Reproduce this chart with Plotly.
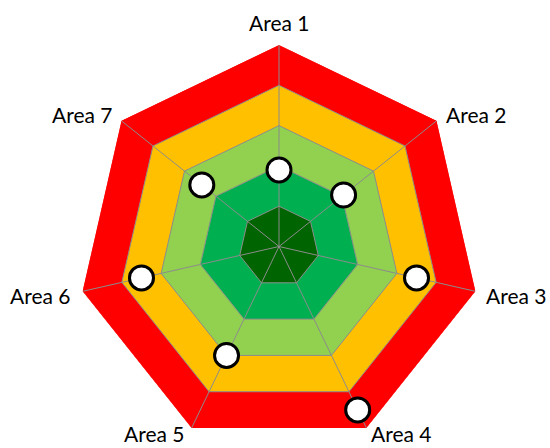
import math
import plotly.graph_objects as go

areas = ["Area 1", "Area 2", "Area 3", "Area 4", "Area 5", "Area 6", "Area 7"]
scores = [1.9, 2.05, 3.5, 4.5, 3.0, 3.5, 2.45]
band_levels = [5, 4, 3, 2, 1]
band_colors = ["#FF0000", "#FFC000", "#92D050", "#00B050", "#006400"]
r_max = 5

W, H = 550, 448
dom_x = [77.5 / W, 480.5 / W]
dom_y = [0, 403 / H]

fig = go.Figure()
closed_theta = areas + [areas[0]]
for lvl, col in zip(band_levels, band_colors):
    edge = col if lvl == r_max else "#8C8C8C"
    fig.add_trace(go.Scatterpolar(
        r=[lvl] * (len(areas) + 1), theta=closed_theta,
        mode="lines", fill="toself", fillcolor=col,
        line=dict(color=edge, width=1), hoverinfo="skip", showlegend=False))

# spokes
for a in areas:
    fig.add_trace(go.Scatterpolar(
        r=[0, r_max], theta=[a, a], mode="lines",
        line=dict(color="#8C8C8C", width=1), hoverinfo="skip", showlegend=False))

fig.add_trace(go.Scatterpolar(
    r=scores, theta=areas, mode="markers",
    marker=dict(size=24, color="white", line=dict(color="black", width=3)),
    showlegend=False))

# category labels placed next to the polygon vertices
cx = (dom_x[0] + dom_x[1]) / 2
cy = (dom_y[0] + dom_y[1]) / 2
rad_px = min((dom_x[1] - dom_x[0]) * W, (dom_y[1] - dom_y[0]) * H) / 2
n = len(areas)
annotations = []
for i, a in enumerate(areas):
    ang = math.radians(90 - i * 360 / n)
    vx = cx + rad_px * math.cos(ang) / W
    vy = cy + rad_px * math.sin(ang) / H
    c, s = math.cos(ang), math.sin(ang)
    if abs(c) < 0.1:
        xa, ya, xs, ys = "center", "bottom", 0, 8
    elif s < -0.8:
        xa, ya, xs, ys = ("left" if c > 0 else "right"), "bottom", (3 if c > 0 else -6), -20
    elif s < 0:
        xa, ya, xs, ys = ("left" if c > 0 else "right"), "middle", (9 if c > 0 else -11), -4
    else:
        xa, ya, xs, ys = ("left" if c > 0 else "right"), "middle", (7 if c > 0 else -7), 6
    annotations.append(dict(
        x=vx, y=vy, xref="paper", yref="paper", text=a, showarrow=False,
        xanchor=xa, yanchor=ya, xshift=xs, yshift=ys,
        font=dict(family="Lato", size=21, color="black")))

fig.update_layout(
    width=W, height=H,
    margin=dict(l=0, r=0, t=0, b=0),
    paper_bgcolor="white",
    annotations=annotations,
    polar=dict(
        domain=dict(x=dom_x, y=dom_y),
        bgcolor="white",
        gridshape="linear",
        radialaxis=dict(range=[0, r_max], showticklabels=False, showgrid=False,
                        showline=False, ticks=""),
        angularaxis=dict(direction="clockwise", rotation=90, ticks="",
                         showgrid=False, showline=False, showticklabels=False),
    ),
)
fig.write_html("out.html")
